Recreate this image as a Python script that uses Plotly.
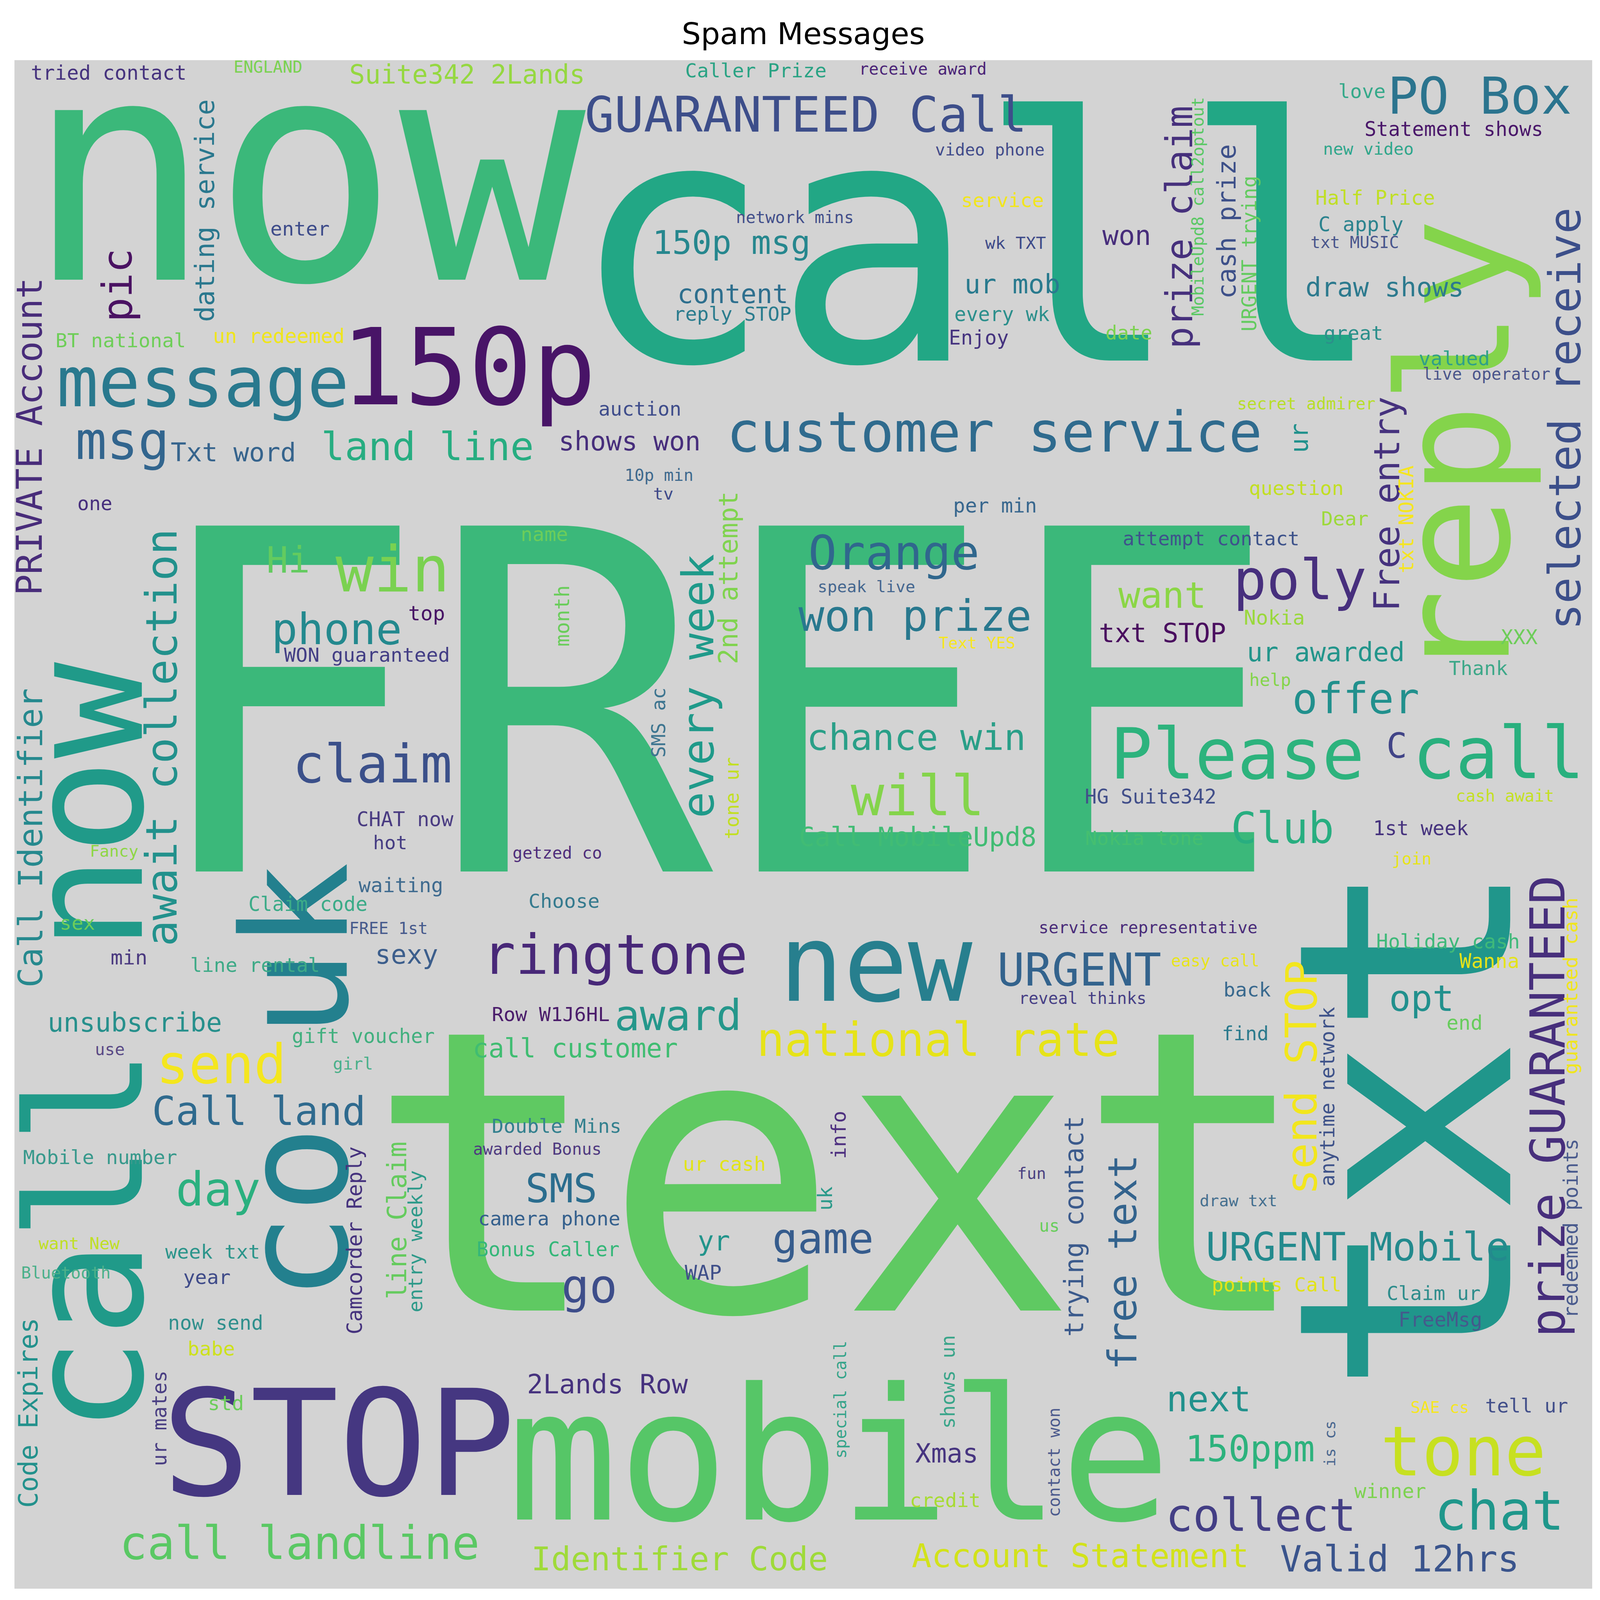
import plotly.graph_objects as go

# ---- word cloud data (reference canvas units: x 11..1557, y 43..1203, y downwards) ----
horizontal_words = [
    "tried contact", "ENGLAND", "Suite342 2Lands", "now", "BT national", "un redeemed", "enter",
    "message", "150p", "msg", "Txt word", "land line", "one", "FREE", "Hi", "win", "phone", "top",
    "WON guaranteed", "name", "Caller Prize", "receive award", "GUARANTEED Call", "video phone",
    "call", "network mins", "150p msg", "content", "reply STOP", "service", "wk TXT", "ur mob",
    "every wk", "Enjoy", "auction", "shows won", "customer service", "10p min", "tv", "per min",
    "Orange", "speak live", "won prize", "Text YES", "won", "date", "love", "PO Box",
    "Statement shows", "new video", "Half Price", "C apply", "txt MUSIC", "draw shows", "great",
    "valued", "live operator", "secret admirer", "question", "Dear", "attempt contact", "poly",
    "want", "Nokia", "txt STOP", "ur awarded", "XXX", "Thank", "help", "offer", "Please", "C",
    "call", "cash await", "HG Suite342", "Club", "Nokia tone", "1st week", "join",
    "service representative", "URGENT", "reveal thinks", "easy call", "back", "find",
    "Holiday cash", "Wanna", "opt", "end", "draw txt", "URGENT Mobile", "points Call", "Claim ur",
    "FreeMsg", "next", "SAE cs", "tell ur", "150ppm", "tone", "winner", "collect", "chat",
    "Account Statement", "Valid 12hrs", "ringtone", "new", "Row W1J6HL", "award", "national rate",
    "call customer", "Double Mins", "awarded Bonus", "SMS", "camera phone", "Bonus Caller", "go",
    "ur cash", "yr", "WAP", "game", "fun", "us", "text", "mobile", "2Lands Row", "Xmas", "credit",
    "Identifier Code", "sex", "min", "line rental", "FREE 1st", "sexy", "getzed co", "Choose",
    "Call MobileUpd8", "chance win", "will", "Fancy", "claim", "CHAT now", "hot", "waiting",
    "Claim code", "unsubscribe", "use", "send", "gift voucher", "girl", "Call land",
    "Mobile number", "day", "want New", "Bluetooth", "week txt", "year", "now send", "babe", "std",
    "STOP", "call landline",
]
vertical_words = [  # rotated, read bottom to top
    "dating service", "pic", "PRIVATE Account", "every week", "2nd attempt", "month", "SMS ac",
    "tone ur", "ur", "prize claim", "MobileUpd8 call2optout", "cash prize", "URGENT trying",
    "reply", "selected receive", "Free entry", "txt NOKIA", "txt", "prize GUARANTEED",
    "guaranteed cash", "redeemed points", "send STOP", "anytime network", "free text",
    "trying contact", "is cs", "info", "uk", "special call", "shows un", "contact won", "co uk",
    "call now", "await collection", "Call Identifier", "Camcorder Reply", "line Claim",
    "entry weekly", "Code Expires", "ur mates",
]
words = horizontal_words + vertical_words

word_x = [
    103.5, 259.5, 454.7, 297.5, 115.2, 270.0, 290.8,
    195.8, 455.8, 116.7, 225.5, 415.8, 90.0, 695.6, 279.2, 381.7, 326.7, 415.0,
    356.7, 530.5, 737.8, 901.2, 786.6, 967.0,
    954.4, 775.8, 713.7, 715.0, 714.5, 979.2, 992.3, 989.0,
    979.0, 956.2, 624.0, 614.1, 971.5, 642.8, 647.0, 972.1,
    872.8, 845.8, 893.8, 954.5, 1101.1, 1103.3, 1331.5, 1447.0,
    1421.7, 1338.0, 1344.5, 1330.8, 1324.5, 1354.2, 1323.3,
    1422.3, 1453.7, 1277.0, 1267.3, 1314.8, 1184.0, 1271.1,
    1135.8, 1245.8, 1136.2, 1296.2, 1485.6, 1445.8, 1241.6, 1325.3, 1209.5, 1365.7,
    1465.3, 1472.0, 1124.6, 1253.6, 1118.3, 1389.1, 1380.6,
    1122.0, 1054.5, 1057.7, 1187.8, 1219.2, 1217.3,
    1416.1, 1456.3, 1390.3, 1432.0, 1210.8, 1327.5, 1247.8, 1402.0,
    1408.6, 1181.7, 1408.1, 1493.1, 1222.0, 1431.1, 1359.5, 1232.8, 1466.2,
    1055.7, 1368.6, 599.8, 855.2, 536.8, 661.1, 916.6,
    560.6, 542.3, 523.6, 547.0, 535.1, 533.9, 574.5,
    706.5, 696.6, 685.8, 803.6, 1007.8, 1025.3, 819.7, 819.3, 592.3, 925.0, 923.2,
    663.0, 73.0, 123.0, 246.8, 377.5, 395.5, 543.0, 549.8,
    896.1, 894.8, 896.5, 108.8, 361.7, 393.7, 379.2, 389.7,
    298.8, 128.8, 104.5, 213.8, 352.8, 342.8, 250.8,
    95.0, 210.8, 74.7, 61.2, 205.3, 199.5, 208.3, 203.8, 218.3,
    328.8, 290.3,
    197.7, 112.2, 26.1, 680.9, 711.2, 547.6, 642.2,
    713.9, 1270.2, 1152.8, 1170.7, 1199.2, 1221.3,
    1423.1, 1530.4, 1356.2, 1375.3, 1376.0, 1514.0,
    1536.0, 1536.3, 1272.3, 1297.9, 1096.8,
    1049.7, 1300.1, 818.7, 805.3, 820.6, 926.2, 1029.9, 287.2,
    81.5, 155.3, 26.8, 344.7, 386.1,
    404.0, 24.4, 153.3,
]

word_y = [
    53.0, 48.6, 54.2, 128.3, 256.0, 252.6, 171.0,
    287.6, 276.5, 331.9, 340.8, 336.5, 379.5, 534.0, 422.5, 429.6, 474.8, 462.7,
    494.5, 402.8, 51.2, 50.0, 84.9, 111.2,
    182.2, 162.4, 181.8, 220.7, 235.6, 149.5, 182.1, 213.3,
    236.1, 253.8, 307.8, 332.4, 325.6, 358.1, 372.2, 381.1,
    417.0, 442.4, 465.0, 485.2, 176.4, 250.2, 66.8, 70.6,
    95.5, 110.5, 147.8, 167.7, 181.4, 215.7, 250.1,
    269.5, 281.4, 304.0, 367.8, 391.1, 406.2, 437.4,
    449.0, 466.0, 477.9, 492.4, 481.0, 504.5, 513.3, 527.6, 569.8, 563.5,
    569.1, 601.4, 601.8, 625.8, 633.4, 625.8, 649.0,
    701.3, 733.3, 754.7, 726.4, 748.4, 781.7,
    711.7, 726.7, 754.8, 773.3, 908.3, 943.6, 972.0, 978.7,
    998.7, 1058.7, 1065.0, 1063.7, 1096.6, 1098.7, 1128.7, 1146.9, 1143.8,
    1177.7, 1180.1, 721.9, 728.7, 766.8, 767.9, 786.3,
    793.0, 851.8, 869.2, 899.2, 922.0, 945.4, 973.0,
    880.4, 938.9, 963.0, 936.9, 887.8, 927.4, 888.3, 1101.9, 1047.4, 1100.1, 1135.5,
    1180.2, 697.7, 723.7, 729.5, 701.7, 721.8, 644.6, 681.1,
    632.5, 556.9, 601.4, 643.1, 577.1, 619.0, 636.8, 669.0,
    683.4, 773.1, 793.6, 805.1, 783.4, 804.5, 840.5,
    875.4, 899.6, 940.8, 963.2, 947.0, 966.4, 1001.0, 1020.4, 1062.0,
    1093.1, 1168.2,
    157.5, 214.0, 328.6, 518.1, 435.7, 464.8, 545.7,
    603.1, 330.0, 170.0, 154.2, 165.8, 190.0,
    339.1, 315.3, 380.0, 391.7, 851.9, 836.6,
    745.5, 929.3, 815.0, 829.3, 955.0,
    927.6, 1092.5, 858.4, 906.8, 1059.3, 1045.9, 1106.7, 818.0,
    792.0, 557.0, 633.1, 938.4, 923.4,
    939.3, 1069.3, 1073.4,
]

word_size = [
    19.5, 16.0, 25.6, 304, 19.3, 19.5, 19.3,
    68, 104, 51, 25.5, 38.5, 19, 465, 35.5, 62, 42.5, 20,
    19.3, 19.3, 19.2, 16, 48, 16.2,
    332, 16, 32.2, 25.8, 19.2, 19.3, 16.5, 26,
    19.4, 19.5, 19.3, 25.7, 54.5, 16, 16.6, 19.5,
    46.5, 15.9, 42.2, 15.6, 26.5, 19.1, 19.3, 50,
    19.4, 16.4, 19.5, 19.8, 16, 25.8, 19.3,
    19.3, 16, 16.1, 19.3, 19.3, 19.2, 54.3,
    35.8, 19.9, 25.9, 25.7, 20, 19.2, 17, 41.4, 69, 34,
    70, 16, 19.5, 42, 19.3, 19.4, 16.2,
    16.2, 44.5, 16, 16, 19.3, 19.1,
    19.5, 19.5, 35.3, 19.6, 15.8, 38, 19.2, 19.1,
    19.5, 34.5, 15.9, 19.3, 35.2, 67.4, 19.5, 44.3, 52.9,
    32.3, 35.4, 54, 105, 19.2, 41.4, 45.5,
    25.7, 19.2, 16.1, 39, 19.3, 19.4, 45.6,
    19.3, 26.4, 20, 41.3, 15.7, 16.7, 385, 180, 26.2, 25.7, 19.2,
    32.2, 19.2, 20, 19.2, 16, 25.7, 16.2, 19.3,
    25.8, 35.7, 54.5, 15.8, 52, 19.7, 18.6, 19.7,
    19.4, 25.8, 16.2, 53, 19.4, 16.4, 38.7,
    19.3, 46, 16.5, 16.2, 19.3, 19.3, 19.4, 19.3, 19.6,
    144, 45.1,
    25.9, 40, 34.5, 43, 25.6, 20, 19,
    19.1, 24.2, 36, 16.2, 25.2, 19.5,
    151, 43, 35, 19.5, 292, 47,
    19.2, 19.5, 42.5, 19.5, 39,
    25.7, 15, 19.6, 19.7, 16, 19.1, 16.2, 143,
    157, 42.5, 32.5, 20.4, 25.7,
    19.3, 25.8, 19.5,
]

word_color = [
    "#46337e", "#7ad151", "#95d840", "#3bb87a", "#6ece58", "#efe51c", "#3e4c8a",
    "#29798e", "#481467", "#32658e", "#36648d", "#27ad81", "#472f7d", "#3bb87a", "#63cb5f", "#7ad151", "#23898e", "#471365",
    "#433e85", "#6ccd5a", "#2aa384", "#4b2477", "#3d4e8a", "#424b8a",
    "#22a785", "#434f8a", "#26878e", "#2e6f8e", "#2b7c8e", "#f1e51d", "#3f4b89", "#297a8e",
    "#2c8f8c", "#45337f", "#3f4d8b", "#472e7c", "#2f6b8e", "#3f6a8e", "#3e4a89", "#38678e",
    "#30678d", "#46678f", "#28788e", "#f6e620", "#472d7b", "#7cd250", "#35a98a", "#2b748e",
    "#4a176a", "#2fa68b", "#c0df25", "#2c838e", "#4a568c", "#2d7a8e", "#2c8f8b",
    "#2fa088", "#4b558b", "#b8de29", "#c2df23", "#9dd93b", "#3e538b", "#472f7d",
    "#8bd646", "#9ad83c", "#4a0f5f", "#23958b", "#6dcd59", "#3ea889", "#84d44b", "#21908d", "#2db37d", "#414487",
    "#29b07e", "#c4e022", "#424f8a", "#28ae80", "#45bf70", "#46337e", "#e7e419",
    "#4a2c79", "#33638d", "#473f85", "#e8e41a", "#39698e", "#2c7a8d",
    "#3fb97a", "#e4e31a", "#21908d", "#67cc5c", "#46708f", "#238a8d", "#e2e318", "#2f8d8c",
    "#445a8c", "#21918c", "#f5e620", "#424f8a", "#2db27d", "#c7e020", "#7dd250", "#433e85", "#1f978b",
    "#d2e21b", "#3a548c", "#482878", "#277f8e", "#4b1d6b", "#25978b", "#e6e318",
    "#40bd72", "#33808e", "#4f3a80", "#2b6d8e", "#35608d", "#35b779", "#3d4d8a",
    "#e2e418", "#22948b", "#40508a", "#365c8d", "#4b4181", "#68cd5b", "#5fc962", "#56c667", "#46327e", "#473580", "#a8db34",
    "#9fda3a", "#6ccd5a", "#4b3a80", "#3eaa87", "#475a8c", "#3c5e8c", "#4f2d7b", "#357a8e",
    "#41bc74", "#2a9f88", "#84d44b", "#8ed645", "#3b508a", "#4a3c82", "#463d83", "#3f6b8f",
    "#3cab88", "#27908c", "#5a4a85", "#f4e61e", "#42b07f", "#4ab08a", "#2f6a8e",
    "#38998c", "#2bb07f", "#c0df25", "#4cb08a", "#2c958b", "#3f4b89", "#2f8f8c", "#cde11d", "#6ccd5a",
    "#453781", "#5ac864",
    "#2a788e", "#4a1262", "#482c7a", "#1f9a8a", "#80d34f", "#6acd5b", "#3e7590",
    "#c2df23", "#21918c", "#46307c", "#5ac864", "#3d5089", "#63cb5f",
    "#84d44b", "#3c4f8a", "#46327e", "#f5e51f", "#20968b", "#472f7c",
    "#f0e51e", "#4a5b8d", "#f2e61d", "#3f538a", "#33638d",
    "#3b5a8c", "#4a678f", "#4e3080", "#2b9a8a", "#35a48a", "#3aa58a", "#4d5b8d", "#23808e",
    "#209a89", "#22918c", "#26898e", "#46337e", "#65cb5e",
    "#2f9a8a", "#23918c", "#4a3f83",
]

word_angle = [0] * len(horizontal_words) + [90] * len(vertical_words)

title_text = "Spam Messages"

# ---- figure geometry: the page is photographed in a 4096 x 4096 viewport ----
W, H = 4096, 4096
REF_W, REF_H = 1568.0, 1213.6          # reference frame in canvas units
SX, SY = W / REF_W, H / REF_H          # pixels per unit, horizontally / vertically
x_lo, x_hi = 11.0, 1557.3
y_lo, y_hi = 43.3, 1202.6

fig = go.Figure()
fig.add_trace(go.Scatter(x=[x_lo, x_hi], y=[y_lo, y_hi], mode="markers",
                         marker=dict(opacity=0), hoverinfo="skip", showlegend=False))

# big words first so that small words stay visible on top of them
order = sorted(range(len(words)), key=lambda i: -word_size[i])
annotations = []
for i in order:
    annotations.append(dict(
        x=word_x[i], y=word_y[i], xref="x", yref="y", text=words[i], showarrow=False,
        xanchor="center", yanchor="middle", textangle=-word_angle[i], borderpad=0,
        font=dict(family="DejaVu Sans Mono", size=word_size[i] * SX, color=word_color[i]),
    ))

fig.update_layout(
    width=W, height=H, autosize=False,
    margin=dict(l=x_lo * SX, r=W - x_hi * SX, t=y_lo * SY, b=H - y_hi * SY, pad=0),
    paper_bgcolor="white", plot_bgcolor="#d3d3d3",
    xaxis=dict(range=[x_lo, x_hi], visible=False, fixedrange=True),
    yaxis=dict(range=[y_hi, y_lo], visible=False, fixedrange=True),
    annotations=annotations,
    title=dict(text=title_text, x=0.5, xanchor="center", xref="paper",
               y=1 - (23.1 * SY) / H, yanchor="middle", yref="container",
               font=dict(family="DejaVu Sans", size=29.5 * SX, color="black")),
    showlegend=False,
)

fig.write_html("out.html")
